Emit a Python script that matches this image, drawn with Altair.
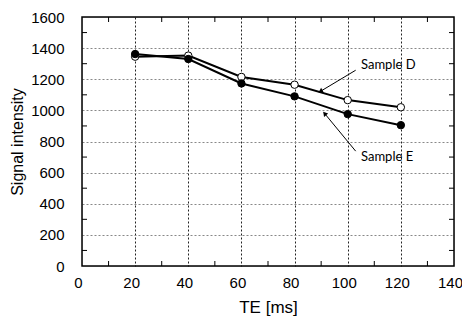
import altair as alt
import pandas as pd

te = [20, 40, 60, 80, 100, 120]
sample_d = [1345, 1352, 1215, 1165, 1066, 1020]
sample_e = [1362, 1330, 1173, 1090, 976, 905]

x_ticks = [0, 20, 40, 60, 80, 100, 120, 140]
y_ticks = [0, 200, 400, 600, 800, 1000, 1200, 1400, 1600]
x_minor = [10, 30, 50, 70, 90, 110, 130]
y_minor = [100, 300, 500, 700, 900, 1100, 1300, 1500]

ann_label = ["Sample D", "Sample E"]
ann_text_x = [105, 105]
ann_text_y = [1290, 700]
arrow_x1 = [103, 103]
arrow_y1 = [1258, 738]
arrow_x2 = [90, 91.5]
arrow_y2 = [1125, 976]
arrow_angle = [239, 320]

W, H = 372, 249

df = pd.DataFrame({
    "te": te * 2,
    "val": sample_d + sample_e,
    "sample": ["D"] * len(te) + ["E"] * len(te),
})
ann = pd.DataFrame({
    "label": ann_label, "tx": ann_text_x, "ty": ann_text_y,
    "x1": arrow_x1, "y1": arrow_y1, "x2": arrow_x2, "y2": arrow_y2,
    "ang": arrow_angle,
})
xm = pd.DataFrame({"v": x_minor})
ym = pd.DataFrame({"v": y_minor})

xs = alt.Scale(domain=[0, 140], nice=False)
ys = alt.Scale(domain=[0, 1600], nice=False)

hide_edge_x = {"condition": {"test": "datum.value == 0 || datum.value == 140", "value": 0}, "value": 1}
hide_edge_y = {"condition": {"test": "datum.value == 0 || datum.value == 1600", "value": 0}, "value": 1}

x_axis = alt.Axis(values=x_ticks, tickCount=len(x_ticks), title="TE [ms]", grid=True, gridDash=[2, 2],
                  gridColor="#222", gridWidth=1, gridOpacity=hide_edge_x,
                  ticks=False, domain=False, labelPadding=9, labelFontSize=15, labelOffset=-4,
                  labelOverlap=False, labelFlush=False, format="d",
                  labelFont="Liberation Sans", labelColor="black",
                  titleFont="Liberation Sans", titleFontSize=17, titleFontWeight="normal",
                  titleColor="black", titlePadding=9)
y_axis = alt.Axis(values=y_ticks, tickCount=len(y_ticks), title="Signal intensity", grid=True, gridDash=[2, 2],
                  gridColor="#888", gridWidth=1, gridOpacity=hide_edge_y,
                  ticks=False, domain=False, labelPadding=18, labelFontSize=15,
                  labelOverlap=False, labelFlush=False, format="d",
                  labelFont="Liberation Sans", labelColor="black",
                  titleFont="Liberation Sans", titleFontSize=16, titleFontWeight="normal",
                  titleColor="black", titlePadding=5)

lines = alt.Chart(df).mark_line(color="black", strokeWidth=2).encode(
    x=alt.X("te:Q", scale=xs, axis=x_axis),
    y=alt.Y("val:Q", scale=ys, axis=y_axis),
    detail="sample:N",
)
pts_d = alt.Chart(df).transform_filter("datum.sample == 'D'").mark_point(
    shape="circle", filled=True, fill="white", stroke="black", strokeWidth=1, size=55, opacity=1
).encode(x=alt.X("te:Q", scale=xs), y=alt.Y("val:Q", scale=ys))
pts_e = alt.Chart(df).transform_filter("datum.sample == 'E'").mark_point(
    shape="circle", filled=True, fill="black", stroke="black", strokeWidth=1, size=55, opacity=1
).encode(x=alt.X("te:Q", scale=xs), y=alt.Y("val:Q", scale=ys))

arrows = alt.Chart(ann).mark_rule(color="black", strokeWidth=1).encode(
    x=alt.X("x1:Q", scale=xs), y=alt.Y("y1:Q", scale=ys), x2="x2:Q", y2="y2:Q")
heads = alt.Chart(ann).mark_point(shape="triangle", filled=True, color="black", size=28, opacity=1).encode(
    x=alt.X("x2:Q", scale=xs), y=alt.Y("y2:Q", scale=ys), angle=alt.Angle("ang:Q", scale=None))
texts = alt.Chart(ann).mark_text(align="left", baseline="middle", font="Lato", fontSize=13, color="black").encode(
    x=alt.X("tx:Q", scale=xs), y=alt.Y("ty:Q", scale=ys), text="label:N")

tick_bottom = alt.Chart(xm).mark_rule(color="black", strokeWidth=1).encode(
    x=alt.X("v:Q", scale=xs), y=alt.value(H), y2=alt.value(H - 5))
tick_top = alt.Chart(xm).mark_rule(color="black", strokeWidth=1).encode(
    x=alt.X("v:Q", scale=xs), y=alt.value(0), y2=alt.value(5))
tick_left = alt.Chart(ym).mark_rule(color="black", strokeWidth=1).encode(
    y=alt.Y("v:Q", scale=ys), x=alt.value(0), x2=alt.value(5))
tick_right = alt.Chart(ym).mark_rule(color="black", strokeWidth=1).encode(
    y=alt.Y("v:Q", scale=ys), x=alt.value(W - 5), x2=alt.value(W))

frame = alt.Chart(pd.DataFrame({"a": [0]})).mark_rect(fill=None, stroke="black", strokeWidth=1.5).encode(
    x=alt.value(0), x2=alt.value(W), y=alt.value(0), y2=alt.value(H))

chart = alt.layer(
    lines, tick_bottom, tick_top, tick_left, tick_right, arrows, heads, texts, pts_d, pts_e, frame
).properties(
    width=W, height=H,
    autosize=alt.AutoSizeParams(type="none"),
    padding={"left": 74, "top": 9, "right": 8, "bottom": 50},
).configure_view(stroke=None).configure(background="white")

chart.save("out.html", embed_options={"renderer": "svg", "actions": False})
